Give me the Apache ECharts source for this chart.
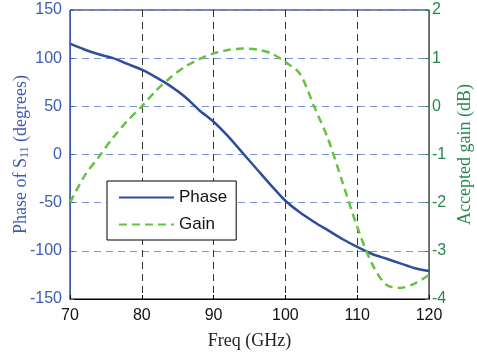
<!DOCTYPE html>
<html>
<head>
<meta charset="utf-8">
<script src="https://cdn.jsdelivr.net/npm/echarts@6/dist/echarts.min.js"></script>
<style>
  html, body { margin: 0; padding: 0; background: #fff; }
  #chart { width: 477px; height: 355px; }
</style>
</head>
<body>
<div id="chart"></div>
<script>
// frequency samples (GHz)
const freq = [70, 72, 74, 76, 78, 80, 82, 84, 86, 88, 90, 92, 94, 96, 98,
  100, 102, 104, 106, 108, 110, 112, 114, 116, 118, 120];
// phase of S11 (degrees)
const phase = [115, 109, 104, 100, 94, 88, 80, 71, 60, 46, 34, 19, 2, -15, -32,
  -48, -60, -70, -79, -88, -96, -103, -108, -113, -118, -121];
// accepted gain (dB)
const gain = [-2, -1.45, -1.05, -0.65, -0.3, 0, 0.33, 0.6, 0.82, 0.98, 1.1, 1.17, 1.2, 1.18, 1.1,
  0.92, 0.68, 0, -0.7, -1.6, -2.5, -3.25, -3.7, -3.77, -3.68, -3.5];

const blue = '#2f4d9e';
const green = '#66c244';
const darkGreen = '#238a4f';
const tickBlue = '#3d5bb0';

const chart = echarts.init(document.getElementById('chart'));
chart.setOption({
  animation: false,
  grid: {
    left: 70, right: 48, top: 10, bottom: 56, outerBoundsMode: 'none',
    show: true, borderColor: '#000', borderWidth: 1
  },
  legend: {
    left: 107, top: 181, orient: 'vertical',
    backgroundColor: '#fff', borderColor: '#000', borderWidth: 1,
    padding: [8, 9, 7, 11], itemGap: 10, itemWidth: 55, itemHeight: 16,
    itemStyle: { opacity: 0 },
    textStyle: { fontFamily: 'Liberation Sans', fontSize: 17, color: '#111' },
    data: ['Phase', 'Gain']
  },
  xAxis: {
    type: 'value', min: 70, max: 120, interval: 10,
    name: 'Freq (GHz)', nameLocation: 'middle', nameGap: 33,
    nameTextStyle: { fontFamily: 'Liberation Serif', fontSize: 18, color: '#222' },
    axisLine: { onZero: false, lineStyle: { color: '#000', width: 1 } },
    axisTick: { inside: true, length: 4, lineStyle: { color: '#000' } },
    axisLabel: { fontFamily: 'Liberation Sans', fontSize: 16, color: '#111', margin: 9 },
    splitLine: { show: true, lineStyle: { color: '#333', type: [7, 5], width: 1 } }
  },
  yAxis: [{
    type: 'value', min: -150, max: 150, interval: 50,
    name: 'Phase of S{sub|11} (degrees)', nameLocation: 'middle', nameGap: 39,
    nameMoveOverlap: false,
    nameTextStyle: {
      fontFamily: 'Liberation Serif', fontSize: 18, color: tickBlue,
      rich: { sub: { fontFamily: 'Liberation Serif', fontSize: 12, color: tickBlue, verticalAlign: 'bottom', padding: [7, 0, 0, 0] } }
    },
    axisLine: { show: true, onZero: false, lineStyle: { color: tickBlue, width: 1 } },
    axisTick: { inside: true, length: 4, lineStyle: { color: tickBlue } },
    axisLabel: { fontFamily: 'Liberation Sans', fontSize: 16, color: tickBlue, margin: 8 },
    splitLine: { show: true, lineStyle: { color: '#7f94cf', type: [7, 5], width: 1 } }
  }, {
    type: 'value', min: -4, max: 2, interval: 1,
    name: 'Accepted gain (dB)', nameLocation: 'middle', nameGap: 27, nameRotate: 90,
    nameMoveOverlap: false,
    nameTextStyle: { fontFamily: 'Liberation Serif', fontSize: 18, color: darkGreen },
    axisLine: { show: true, onZero: false, lineStyle: { color: darkGreen, width: 1 } },
    axisTick: { inside: true, length: 4, lineStyle: { color: darkGreen } },
    axisLabel: { fontFamily: 'Liberation Sans', fontSize: 16, color: darkGreen, margin: 3 },
    splitLine: { show: false }
  }],
  series: [{
    name: 'Phase', type: 'line', yAxisIndex: 0, symbol: 'none', smooth: 0.3,
    data: freq.map((f, i) => [f, phase[i]]),
    lineStyle: { color: blue, width: 2.5 }, itemStyle: { color: blue }
  }, {
    name: 'Gain', type: 'line', yAxisIndex: 1, symbol: 'none', smooth: 0.3,
    data: freq.map((f, i) => [f, gain[i]]),
    lineStyle: { color: green, width: 2.5, type: [8, 5] }, itemStyle: { color: green }
  }]
});
</script>
</body>
</html>
